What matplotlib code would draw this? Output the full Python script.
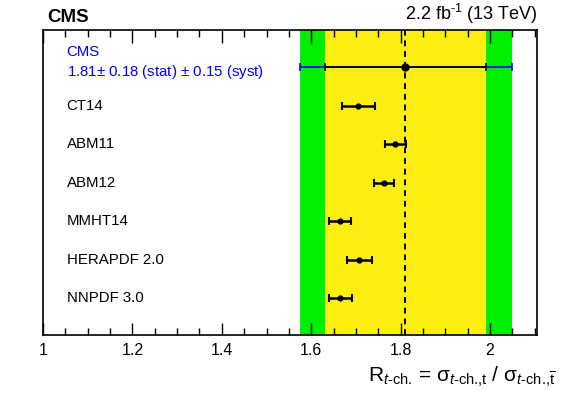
import matplotlib
matplotlib.use("Agg")
import matplotlib.pyplot as plt
from matplotlib.ticker import MultipleLocator

plt.rcParams['font.family'] = ['Liberation Sans', 'DejaVu Sans']
plt.rcParams['mathtext.fontset'] = 'custom'
plt.rcParams['mathtext.rm'] = 'Liberation Sans'
plt.rcParams['mathtext.it'] = 'Liberation Sans:italic'
plt.rcParams['mathtext.bf'] = 'Liberation Sans:bold'

# measured value
cms_value = 1.81
cms_stat = 0.18
cms_syst = 0.15
cms_total_lo = 0.235
cms_total_hi = 0.24

# PDF predictions (top to bottom)
pdf_names = ["CT14", "ABM11", "ABM12", "MMHT14", "HERAPDF 2.0", "NNPDF 3.0"]
pdf_values = [1.705, 1.788, 1.763, 1.664, 1.707, 1.665]
pdf_errors = [0.037, 0.024, 0.023, 0.025, 0.028, 0.026]

fig = plt.figure(figsize=(5.81, 3.96), dpi=100)
ax = fig.add_axes([0.074, 0.154, 0.851, 0.770])

# uncertainty bands
ax.axvspan(cms_value - cms_total_lo, cms_value + cms_total_hi, color='#00ee00', lw=0, zorder=0.5)
ax.axvspan(cms_value - cms_stat, cms_value + cms_stat, color='#fbee10', lw=0, zorder=0.6)
ax.axvline(cms_value, color='black', ls=(0, (3, 2.5)), lw=1.4, zorder=2)

n = len(pdf_names)
ypos = list(range(n - 1, -1, -1))
y_cms = n

# CMS result: total (blue) and stat (black)
ax.errorbar([cms_value], [y_cms], xerr=[[cms_total_lo], [cms_total_hi]], fmt='none',
            ecolor='blue', elinewidth=1.2, capsize=3, capthick=1.2, zorder=3)
ax.errorbar([cms_value], [y_cms], xerr=cms_stat, fmt='o', color='black', ms=5,
            elinewidth=1.2, capsize=3, capthick=1.2, zorder=4)

ax.errorbar(pdf_values, ypos, xerr=pdf_errors, fmt='o', color='black', ms=3.5,
            elinewidth=1.8, capsize=3, capthick=1.5, zorder=4)

# labels
for name, y in zip(pdf_names, ypos):
    ax.text(1.053, y, name, fontsize=10.8, va='center', ha='left')
ax.text(1.053, y_cms + 0.38, "CMS", fontsize=10.8, va='center', ha='left', color='blue')
ax.text(1.053, y_cms - 0.12, r"1.81$\pm$ 0.18 (stat) $\pm$ 0.15 (syst)",
        fontsize=10.8, va='center', ha='left', color='blue')

ax.set_xlim(1.0, 2.106)
ax.set_ylim(-0.96, 6.96)
ax.xaxis.set_minor_locator(MultipleLocator(0.05))
ax.set_xticks([1, 1.2, 1.4, 1.6, 1.8, 2])
ax.set_xticklabels(["1", "1.2", "1.4", "1.6", "1.8", "2"])
ax.tick_params(axis='x', which='both', direction='in', top=True, labelsize=11.5, pad=6)
ax.tick_params(axis='x', which='major', length=9, width=1)
ax.tick_params(axis='x', which='minor', length=5, width=1)
ax.tick_params(axis='y', left=False, right=False, labelleft=False)
for s in ax.spines.values():
    s.set_linewidth(1.2)
    s.set_zorder(5)

fig.text(0.955, 0.035,
         r"R$_{\mathit{t}\text{-ch.}}$ = σ$_{\mathit{t}\text{-ch.,t}}$ / σ$_{\mathit{t}\text{-ch.,}\overline{\mathrm{t}}}$",
         fontsize=15, ha='right', va='baseline')

fig.text(0.081, 0.935, "CMS", fontsize=13.5, fontweight='bold', ha='left', va='bottom')
fig.text(0.925, 0.935, "2.2 fb$^{\\text{-}1}$ (13 TeV)", fontsize=13, ha='right', va='bottom')

fig.savefig("out.png", dpi=100)
